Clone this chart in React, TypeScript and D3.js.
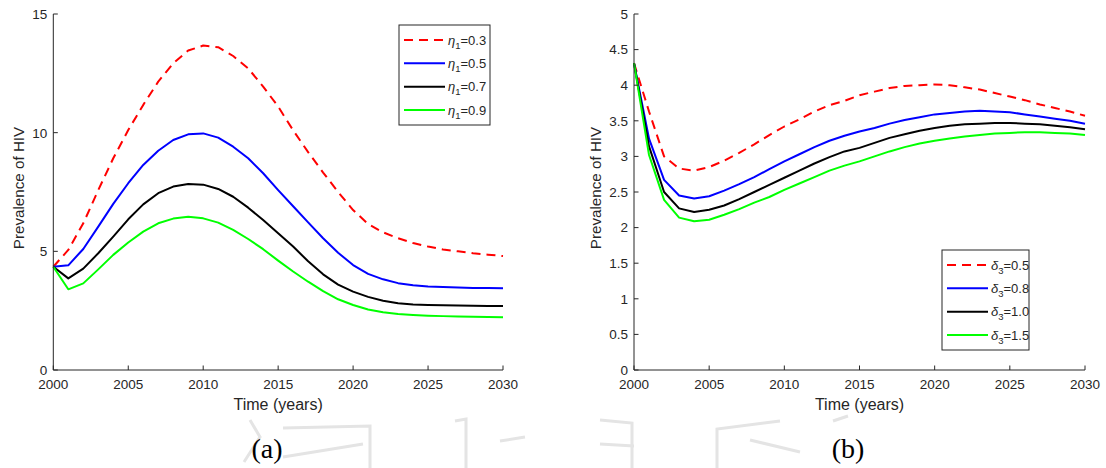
import React from "react";
import * as d3 from "d3";

const years = [2000,2001,2002,2003,2004,2005,2006,2007,2008,2009,2010,2011,2012,2013,2014,2015,2016,2017,2018,2019,2020,2021,2022,2023,2024,2025,2026,2027,2028,2029,2030];

// Panel (a): eta_1
const etaRed = [4.35,5.06,6.18,7.58,8.92,10.11,11.17,12.15,12.92,13.46,13.67,13.6,13.23,12.71,11.94,11.1,10.1,9.18,8.32,7.5,6.74,6.15,5.8,5.55,5.35,5.2,5.08,5.0,4.92,4.86,4.8];
const etaBlue = [4.35,4.41,5.1,6.04,7.0,7.87,8.64,9.24,9.69,9.93,9.97,9.79,9.41,8.92,8.29,7.58,6.9,6.22,5.55,4.94,4.42,4.05,3.82,3.66,3.57,3.52,3.5,3.48,3.46,3.45,3.44];
const etaBlack = [4.35,3.86,4.27,4.92,5.62,6.35,6.98,7.45,7.73,7.84,7.81,7.63,7.3,6.84,6.32,5.76,5.2,4.58,4.03,3.6,3.3,3.08,2.92,2.81,2.76,2.74,2.73,2.72,2.71,2.7,2.7];
const etaGreen = [4.35,3.4,3.65,4.24,4.85,5.37,5.83,6.18,6.38,6.46,6.39,6.21,5.9,5.52,5.09,4.61,4.15,3.72,3.32,2.98,2.74,2.55,2.43,2.36,2.32,2.29,2.27,2.25,2.24,2.23,2.22];
const etaLabels = ["0.3","0.5","0.7","0.9"];

// Panel (b): delta_3
const deltaRed = [4.31,3.63,3.0,2.83,2.8,2.85,2.94,3.05,3.17,3.3,3.42,3.52,3.63,3.72,3.78,3.86,3.91,3.96,3.99,4.0,4.01,4.0,3.97,3.94,3.89,3.84,3.79,3.73,3.68,3.63,3.57];
const deltaBlue = [4.31,3.25,2.67,2.45,2.41,2.44,2.52,2.61,2.71,2.82,2.93,3.03,3.13,3.22,3.29,3.35,3.4,3.46,3.51,3.55,3.59,3.61,3.63,3.64,3.63,3.62,3.59,3.56,3.53,3.5,3.46];
const deltaBlack = [4.31,3.14,2.5,2.27,2.22,2.25,2.31,2.4,2.5,2.6,2.7,2.8,2.9,2.99,3.07,3.12,3.19,3.26,3.31,3.36,3.4,3.43,3.45,3.46,3.47,3.47,3.46,3.45,3.43,3.41,3.38];
const deltaGreen = [4.31,3.02,2.39,2.14,2.09,2.11,2.18,2.26,2.35,2.43,2.53,2.62,2.71,2.8,2.87,2.93,3.0,3.07,3.13,3.18,3.22,3.25,3.28,3.3,3.32,3.33,3.34,3.34,3.33,3.32,3.3];
const deltaLabels = ["0.5","0.8","1.0","1.5"];

const xTicks = [2000,2005,2010,2015,2020,2025,2030];
const yTicksA = [0,5,10,15];
const yTicksB = [0,0.5,1,1.5,2,2.5,3,3.5,4,4.5,5];

const COLORS = ["#ff0000","#0000ff","#000000","#00ff00"];
const AX = "#262626";
const FONT = "'Liberation Sans', Arial, Helvetica, sans-serif";

type PanelProps = {
  x0: number; x1: number; y0: number; y1: number;
  yMax: number; yTicks: number[]; series: number[][];
  sym: string; sub: string; labels: string[];
  legX: number; legY: number; legW: number; legH: number;
  yLabelX: number; panelLabel: string; panelLabelX: number;
};

function Panel(p: PanelProps) {
  const x = d3.scaleLinear().domain([2000, 2030]).range([p.x0, p.x1]);
  const y = d3.scaleLinear().domain([0, p.yMax]).range([p.y1, p.y0]);
  const line = d3.line<number>().x((_, i) => x(years[i])).y((v) => y(v));
  const rowH = p.legH / 4.3;
  return (
    <g>
      {p.series.map((s, i) => (
        <path key={i} d={line(s) || ""} fill="none" stroke={COLORS[i]} strokeWidth={2}
          strokeDasharray={i === 0 ? "9,6" : undefined} strokeLinejoin="round" />
      ))}
      <line x1={p.x0} x2={p.x0} y1={p.y0} y2={p.y1} stroke={AX} strokeWidth={1} />
      <line x1={p.x0} x2={p.x1} y1={p.y1} y2={p.y1} stroke={AX} strokeWidth={1} />
      {p.yTicks.map((t) => (
        <g key={"y" + t}>
          <line x1={p.x0} x2={p.x0 + 4.5} y1={y(t)} y2={y(t)} stroke={AX} />
          <text x={p.x0 - 6} y={y(t)} dy="0.36em" textAnchor="end" fontSize={13.5} fill={AX} fontFamily={FONT}>{String(t)}</text>
        </g>
      ))}
      {xTicks.map((t) => (
        <g key={"x" + t}>
          <line x1={x(t)} x2={x(t)} y1={p.y1} y2={p.y1 - 4.5} stroke={AX} />
          <text x={x(t)} y={389} textAnchor="middle" fontSize={13.5} fill={AX} fontFamily={FONT}>{String(t)}</text>
        </g>
      ))}
      <text x={(p.x0 + p.x1) / 2} y={410} textAnchor="middle" fontSize={16} fill={AX} fontFamily={FONT}>Time (years)</text>
      <text transform={`translate(${p.yLabelX},188) rotate(-90)`} textAnchor="middle" fontSize={15.2} fill={AX} fontFamily={FONT}>Prevalence of HIV</text>
      <rect x={p.legX} y={p.legY} width={p.legW} height={p.legH} fill="#ffffff" stroke={AX} strokeWidth={1} />
      {p.labels.map((l, i) => {
        const cy = p.legY + rowH * (0.65 + i);
        return (
          <g key={"l" + i}>
            <line x1={p.legX + 5} x2={p.legX + 46} y1={cy} y2={cy} stroke={COLORS[i]} strokeWidth={2}
              strokeDasharray={i === 0 ? "9,6" : undefined} />
            <text x={p.legX + 49} y={cy} dy="0.36em" fontSize={13} fill={AX} fontFamily={FONT}>
              <tspan fontStyle="italic">{p.sym}</tspan>
              <tspan fontSize={9.5} dy={4}>{p.sub}</tspan>
              <tspan dy={-4}>{"=" + l}</tspan>
            </text>
          </g>
        );
      })}
      <text x={p.panelLabelX} y={458} textAnchor="middle" fontSize={28} fill="#000" fontFamily="'Liberation Serif', 'Times New Roman', serif">{p.panelLabel}</text>
    </g>
  );
}

const watermark = [
  "M250,420 L260,437 L244,462",
  "M283,428 L370,426 L370,468",
  "M283,457 L363,444",
  "M455,421 L466,419 L466,468",
  "M500,441 L525,437",
  "M600,420 L632,423 L632,468",
  "M600,444 L634,446",
  "M717,468 L717,429 L780,421",
  "M750,440 L800,452",
  "M833,421 L848,416",
];

export default function App() {
  return (
    <div style={{ position: "absolute", left: 0, top: 0 }}>
      <svg width={1106} height={468} style={{ display: "block", background: "#fff" }}>
        <rect x={0} y={0} width={1106} height={468} fill="#fff" />
        {watermark.map((d, i) => (
          <path key={i} d={d} fill="none" stroke="#e4e4e4" strokeWidth={3} />
        ))}
        <Panel x0={53.3} x1={503} y0={14} y1={370} yMax={15} yTicks={yTicksA}
          series={[etaRed, etaBlue, etaBlack, etaGreen]} sym="η" sub="1" labels={etaLabels}
          legX={399} legY={25} legW={91} legH={100} yLabelX={24} panelLabel="(a)" panelLabelX={267} />
        <Panel x0={634} x1={1085} y0={14} y1={370} yMax={5} yTicks={yTicksB}
          series={[deltaRed, deltaBlue, deltaBlack, deltaGreen]} sym="δ" sub="3" labels={deltaLabels}
          legX={942} legY={250} legW={87} legH={100} yLabelX={601} panelLabel="(b)" panelLabelX={848} />
      </svg>
    </div>
  );
}
